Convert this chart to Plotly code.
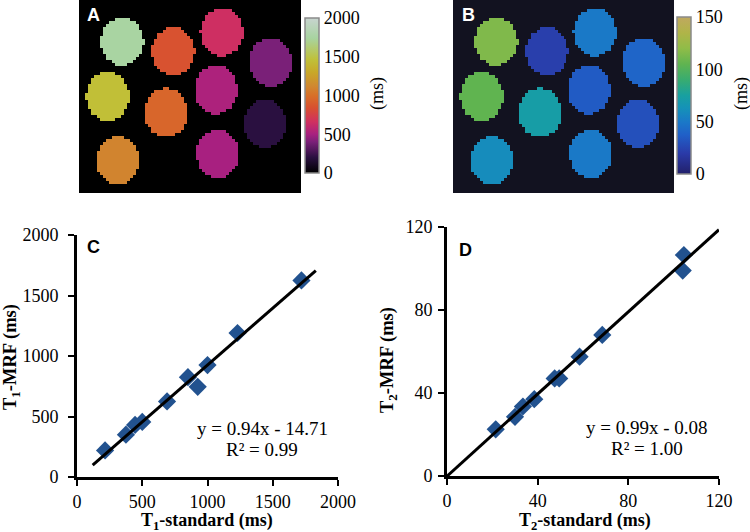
import numpy as np
import plotly.graph_objects as go

W, H = 750, 532

# ---------------- data ----------------
# phantom vials (map panels): value of each vial
t1_map_values = [1750, 850, 650, 400, 1450, 950, 520, 200, 1100, 500]
t2_map_values = [115, 22, 50, 40, 105, 72, 35, 30, 60, 50]
# vial centers as fractions of the image (x, y from top)
vial_cx = [0.195, 0.425, 0.643, 0.863, 0.129, 0.392, 0.617, 0.838, 0.174, 0.625]
vial_cy = [0.216, 0.268, 0.168, 0.324, 0.498, 0.585, 0.464, 0.640, 0.830, 0.796]
vial_rx, vial_ry = 0.096, 0.125

# scatter panel C (T1)
t1_standard = [215, 375, 445, 500, 690, 850, 925, 1000, 1230, 1720]
t1_mrf = [220, 350, 430, 455, 625, 825, 745, 925, 1190, 1625]
t1_fit = (0.94, -14.71)
t1_fit_xrange = [120, 1830]

# scatter panel D (T2)
t2_standard = [21.5, 30, 33.5, 38.5, 47.5, 49.5, 58.5, 68.5, 104, 104.5]
t2_mrf = [22.5, 28.5, 33.5, 37, 47, 47, 57.5, 68, 99, 106.5]
t2_fit = (0.99, -0.08)
t2_fit_xrange = [0, 120]

t1_ticks = [0, 500, 1000, 1500, 2000]
t2_ticks = [0, 40, 80, 120]
t1_cbar_ticks = [0, 500, 1000, 1500, 2000]
t2_cbar_ticks = [0, 50, 100, 150]

# ---------------- build map images ----------------
NX, NY = 74, 64
gx, gy = np.meshgrid(np.arange(NX) + 0.5, np.arange(NY) + 0.5)

def build_map(values):
    z = np.full((NY, NX), np.nan)
    for cx, cy, v in zip(vial_cx, vial_cy, values):
        m = ((gx - cx * NX) / (vial_rx * NX)) ** 2 + ((gy - cy * NY) / (vial_ry * NY)) ** 2 <= 1
        z[m] = v
    return z

zA = build_map(t1_map_values)
zB = build_map(t2_map_values)

cs_A = [[0.0, '#000000'], [0.1, '#2a1040'], [0.2, '#7a2078'], [0.25, '#a82080'],
        [0.33, '#d03060'], [0.42, '#d85030'], [0.5, '#d87028'], [0.56, '#d08830'],
        [0.65, '#c8a828'], [0.73, '#c0c038'], [0.87, '#a8d4a0'], [1.0, '#c8d4d0']]
cs_B = [[0.0, '#22206a'], [0.13, '#2a3aa8'], [0.25, '#2060c8'], [0.33, '#1a78c8'],
        [0.42, '#1592b8'], [0.5, '#18a0a0'], [0.6, '#38ac70'], [0.7, '#60b450'],
        [0.8, '#90bc48'], [0.9, '#b0b448'], [1.0, '#c0a860']]

serif = '"Liberation Serif", "Times New Roman", serif'
sans = '"Liberation Sans", Arial, sans-serif'

def tf(size=18):
    return dict(family=serif, size=size, color='black')

def px(x):
    return x / W

def py(y):
    return 1 - y / H

fig = go.Figure()

fig.add_trace(go.Heatmap(
    z=zA, x=np.arange(NX), y=np.arange(NY), xaxis='x', yaxis='y',
    colorscale=cs_A, zmin=0, zmax=2000, hoverongaps=False,
    colorbar=dict(x=px(305), xanchor='left', y=py(18), yanchor='top',
                  len=155 / H, lenmode='fraction', thickness=14, thicknessmode='pixels',
                  outlinecolor='#8a8a8a', outlinewidth=1.5, xpad=0, ypad=0,
                  tickvals=t1_cbar_ticks, ticks='', tickfont=tf())))

fig.add_trace(go.Heatmap(
    z=zB, x=np.arange(NX), y=np.arange(NY), xaxis='x2', yaxis='y2',
    colorscale=cs_B, zmin=0, zmax=150, hoverongaps=False,
    colorbar=dict(x=px(677), xanchor='left', y=py(17), yanchor='top',
                  len=157 / H, lenmode='fraction', thickness=14, thicknessmode='pixels',
                  outlinecolor='#8a8a8a', outlinewidth=1.5, xpad=0, ypad=0,
                  tickvals=t2_cbar_ticks, ticks='', tickfont=tf())))

marker = dict(symbol='diamond', size=14, color='#22528f', line=dict(width=0))

# panel C
xl = np.array(t1_fit_xrange, dtype=float)
fig.add_trace(go.Scatter(x=t1_standard, y=t1_mrf, mode='markers', marker=marker,
                         xaxis='x3', yaxis='y3', showlegend=False))
fig.add_trace(go.Scatter(x=xl, y=t1_fit[0] * xl + t1_fit[1], mode='lines',
                         line=dict(color='black', width=3), xaxis='x3', yaxis='y3',
                         showlegend=False))
# panel D
xl2 = np.array(t2_fit_xrange, dtype=float)
fig.add_trace(go.Scatter(x=t2_standard, y=t2_mrf, mode='markers', marker=marker,
                         xaxis='x4', yaxis='y4', showlegend=False))
fig.add_trace(go.Scatter(x=xl2, y=t2_fit[0] * xl2 + t2_fit[1], mode='lines',
                         line=dict(color='black', width=3), xaxis='x4', yaxis='y4',
                         showlegend=False))

hidden = dict(visible=False, showgrid=False, zeroline=False)

def sc_axis(domain, rng, ticks, anchor, lstand):
    return dict(domain=domain, range=rng, tickvals=ticks, anchor=anchor,
                showline=True, linecolor='black', linewidth=3,
                ticks='outside', ticklen=6, tickwidth=2, tickcolor='black',
                showgrid=False, zeroline=False, tickfont=tf(),
                ticklabelstandoff=lstand, automargin=False)

fig.update_layout(
    width=W, height=H, margin=dict(l=0, r=0, t=0, b=0),
    font=dict(family=serif, size=18, color='black'),
    paper_bgcolor='white', plot_bgcolor='rgba(0,0,0,0)', showlegend=False,
    xaxis=dict(domain=[px(79), px(301)], range=[-0.5, NX - 0.5], anchor='y', **hidden),
    yaxis=dict(domain=[py(193), 1], range=[NY - 0.5, -0.5], anchor='x', **hidden),
    xaxis2=dict(domain=[px(453), px(674)], range=[-0.5, NX - 0.5], anchor='y2', **hidden),
    yaxis2=dict(domain=[py(193), 1], range=[NY - 0.5, -0.5], anchor='x2', **hidden),
    xaxis3=sc_axis([px(77), px(338)], [0, 2000], t1_ticks, 'y3', 0),
    yaxis3=sc_axis([py(477), py(235)], [0, 2000], t1_ticks, 'x3', 6),
    xaxis4=sc_axis([px(447), px(719)], [0, 120], t2_ticks, 'y4', 0),
    yaxis4=sc_axis([py(476), py(227)], [0, 120], t2_ticks, 'x4', 2),
    shapes=[
        dict(type='rect', xref='paper', yref='paper', x0=px(79), x1=px(301), y0=py(193), y1=1,
             fillcolor='black', line=dict(width=0), layer='below'),
        dict(type='rect', xref='paper', yref='paper', x0=px(453), x1=px(674), y0=py(193), y1=1,
             fillcolor='#121220', line=dict(width=0), layer='below'),
    ],
)

def ann(text, x, y, font, angle=0):
    fig.add_annotation(text=text, x=px(x), y=py(y), xref='paper', yref='paper',
                       showarrow=False, font=font, textangle=angle,
                       xanchor='center', yanchor='middle')

ann('<b>A</b>', 93, 15, dict(family=sans, size=18, color='white'))
ann('<b>B</b>', 468, 15, dict(family=sans, size=18, color='white'))
ann('<b>C</b>', 93, 247, dict(family=sans, size=18, color='black'))
ann('<b>D</b>', 465, 250, dict(family=sans, size=18, color='black'))

# axis titles
ann('<b>T<sub>1</sub>-standard (ms)</b>', 207, 521, tf(18))
ann('<b>T<sub>2</sub>-standard (ms)</b>', 585, 521, tf(18))
ann('<b>T<sub>1</sub>-MRF (ms)</b>', 11, 357, tf(18.5), -90)
ann('<b>T<sub>2</sub>-MRF (ms)</b>', 388, 360, tf(18.5), -90)

ann('(ms)', 378, 94, tf(), -90)
ann('(ms)', 742, 94, tf(), -90)

ann('y = 0.94x - 14.71', 262, 428, tf(19))
ann('R² = 0.99', 262, 449, tf(19))
ann('y = 0.99x - 0.08', 647, 427, tf(19))
ann('R² = 1.00', 647, 448, tf(19))

fig.write_html('out.html', config={'displayModeBar': False},
               post_script="document.body.style.margin='0';document.body.style.overflow='hidden';")
